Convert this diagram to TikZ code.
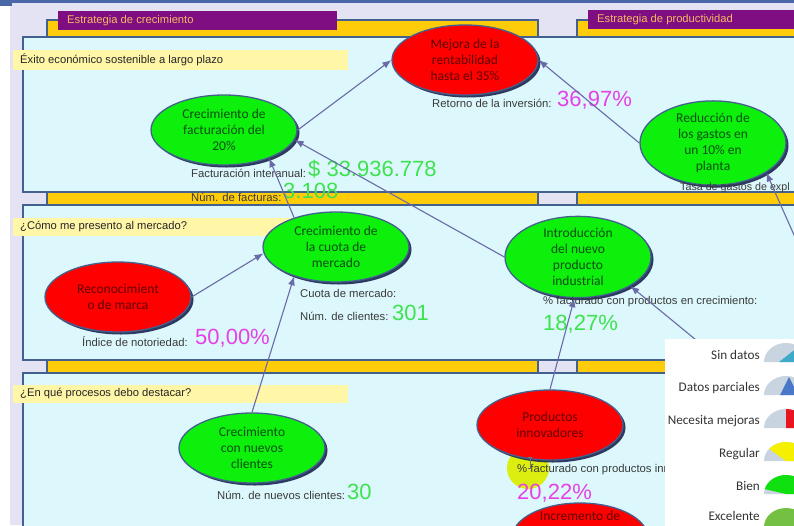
\documentclass[tikz,border=0pt]{standalone}
\usepackage{fontspec}
\setmainfont{Liberation Sans}
\newfontfamily\carl{Carlito}
\usetikzlibrary{shapes.geometric,arrows.meta,shadows}

\definecolor{lav}{HTML}{E3E3F3}
\definecolor{topblue}{HTML}{4A68A8}
\definecolor{edge}{HTML}{44608F}
\definecolor{lanecyan}{HTML}{DCF8FC}
\definecolor{gold}{HTML}{FFCC0A}
\definecolor{headp}{HTML}{7E0E82}
\definecolor{headt}{HTML}{F5B860}
\definecolor{band}{HTML}{FFF6A8}
\definecolor{redf}{HTML}{FF0000}
\definecolor{redt}{HTML}{600000}
\definecolor{greenf}{HTML}{0CF00C}
\definecolor{greent}{HTML}{0A4E10}
\definecolor{shadowc}{HTML}{1C2550}
\definecolor{kpit}{HTML}{3A3A3A}
\definecolor{magv}{HTML}{E640E6}
\definecolor{greenv}{HTML}{3EE24E}
\definecolor{arrc}{HTML}{6A6AA6}
\definecolor{hilite}{HTML}{DCEE10}
\definecolor{gaugebg}{HTML}{C8D4DF}
\definecolor{gteal}{HTML}{3FA9C9}
\definecolor{gblue}{HTML}{4A78C8}
\definecolor{gred}{HTML}{E8141E}
\definecolor{gyellow}{HTML}{F5F000}
\definecolor{ggreen}{HTML}{10E010}
\definecolor{gexc}{HTML}{74C043}
\definecolor{legt}{HTML}{333333}

\begin{document}
\begin{tikzpicture}[x=1pt,y=-1pt,
  lanebox/.style={draw=edge, line width=1.2pt},
  goal/.style={ellipse, draw=edge, line width=1.3pt, minimum width=146pt,
    minimum height=70pt, inner sep=0pt, align=center,
    font=\carl\fontsize{13.5}{16}\selectfont,
    drop shadow={shadow xshift=2.5pt, shadow yshift=-2.5pt, fill=shadowc, opacity=0.9}},
  redgoal/.style={goal, fill=redf, text=redt},
  greengoal/.style={goal, fill=greenf, text=greent},
  header/.style={anchor=west, inner sep=0pt, text=headt, font=\fontsize{11.2}{13}\selectfont},
  rowlabel/.style={anchor=west, inner sep=0pt, text=black!85, font=\fontsize{11.2}{13}\selectfont},
  kpi/.style={anchor=west, inner sep=0pt, text=kpit, font=\fontsize{11.3}{13}\selectfont},
  valm/.style={anchor=west, inner sep=0pt, text=magv, font=\fontsize{22}{24}\selectfont},
  valg/.style={anchor=west, inner sep=0pt, text=greenv, font=\fontsize{22}{24}\selectfont},
  legtext/.style={anchor=east, inner sep=0pt, text=legt, font=\carl\fontsize{13.2}{15}\selectfont},
  link/.style={draw=arrc, line width=1.1pt, -{Latex[length=9pt,width=7pt]}}]

\useasboundingbox (0,0) rectangle (794,525);
\clip (0,0) rectangle (794,525);

% page background
\fill[lav] (0,0) rectangle (794,525);
\fill[white] (0,0) rectangle (10,525);
\fill[topblue] (0,0) rectangle (794,3);
\fill[topblue] (0,0) rectangle (12,6);

% strategy columns
\draw[lanebox, fill=gold] (47,20) rectangle (538,545);
\draw[lanebox, fill=gold] (577,20) rectangle (815,545);

% perspective rows
\draw[lanebox, fill=lanecyan] (23,37) rectangle (815,192);
\draw[lanebox, fill=lanecyan] (23,205) rectangle (815,360);
\draw[lanebox, fill=lanecyan] (23,373) rectangle (815,545);

% column headers
\fill[headp] (58,11) rectangle (337,30);
\node[header] (h1) at (67,21) {Estrategia de crecimiento};
\fill[headp] (588,10) rectangle (815,29);
\node[header] (h2) at (597,20) {Estrategia de productividad};

% row questions
\fill[band] (13,50) rectangle (348,70);
\node[rowlabel] (r1) at (20,60) {Éxito económico sostenible a largo plazo};
\fill[band] (13,218) rectangle (348,236);
\node[rowlabel] (r2) at (20,227) {¿Cómo me presento al mercado?};
\fill[band] (13,385) rectangle (348,403);
\node[rowlabel] (r3) at (20,394) {¿En qué procesos debo destacar?};

% highlight spot
\fill[hilite] (528,468) circle[radius=21pt];

% objectives
\node[redgoal] (mejora) at (465,60) {Mejora de la\\rentabilidad\\hasta el 35\%};
\node[greengoal] (fact) at (224,130) {Crecimiento de\\facturación del\\20\%};
\node[greengoal] (gastos) at (713,143) {Reducción de\\los gastos en\\un 10\% en\\planta};
\node[greengoal] (cuota) at (336,247) {Crecimiento de\\la cuota de\\mercado};
\node[redgoal] (marca) at (118,297) {Reconocimient\\o de marca};
\node[greengoal] (intro) at (578,257) {Introducción\\del nuevo\\producto\\industrial};
\node[greengoal] (nuevos) at (252,448) {Crecimiento\\con nuevos\\clientes};
\node[redgoal] (innov) at (550,425) {Productos\\innovadores};
\node[redgoal, minimum width=136pt] (incr) at (580,538) {};
\node[text=redt, font=\carl\fontsize{13.5}{16}\selectfont, inner sep=0pt] (incrt) at (580,516) {Incremento de};

% indicators
\node[kpi] (k1) at (432,103) {Retorno de la inversión:};
\node[valm] (v1) at (557,100) {36,97\%};
\node[kpi] (k2) at (191,173) {Facturación interanual:};
\node[valg] (v2) at (308,169) {\$ 33.936.778};
\node[kpi] (k3) at (191,197) {Núm. de facturas:};
\node[valg] (v3) at (283,191) {3.108};
\node[kpi, font=\fontsize{10.7}{13}\selectfont] (k4) at (680,188) {Tasa de gastos de expl};
\node[kpi] (k5) at (300,293) {Cuota de mercado:};
\node[kpi] (k6) at (300,316) {Núm. de clientes:};
\node[valg] (v6) at (392,313) {301};
\node[kpi] (k7) at (82,342) {Índice de notoriedad:};
\node[valm] (v7) at (195,338) {50,00\%};
\node[kpi] (k8) at (543,302) {\% facturado con productos en crecimiento:};
\node[valg] (v8) at (543,324) {18,27\%};
\node[kpi] (k9) at (217,495) {Núm. de nuevos clientes:};
\node[valg] (v9) at (347,492) {30};
\node[kpi] (k10) at (517,470) {\% facturado con productos innovadores:};
\node[valm] (v10) at (517,493) {20,22\%};

% text cursor
\draw[black!55, line width=0.6pt] (528,457) -- (532,457) (530,457) -- (530,468) (528,468) -- (532,468);

% cause-effect links
\coordinate (from-right) at (806,262);
\coordinate (from-legend) at (735,372);
\draw[link] (fact.east) -- (mejora.west);
\draw[link] (gastos.west) -- (mejora.east);
\draw[link] (intro.west) -- (fact.-8);
\draw[link] (cuota.145) -- (fact.-32);
\draw[link] (marca.east) -- (cuota.185);
\draw[link] (nuevos.north) -- (cuota.215);
\draw[link] (innov.north) -- (intro.265);
\draw[link] (from-legend) -- (intro.-29);
\draw[link] (from-right) -- (gastos.-29);

% status legend
\fill[white] (665,339) rectangle (800,530);
\node[legtext] (l1) at (760,355) {Sin datos};
\node[legtext] (l2) at (760,388) {Datos parciales};
\node[legtext] (l3) at (760,421) {Necesita mejoras};
\node[legtext] (l4) at (760,454) {Regular};
\node[legtext] (l5) at (760,486) {Bien};
\node[legtext] (l6) at (760,516) {Excelente};

% gauges
\fill[gaugebg] (764,362) arc[start angle=180,end angle=0,x radius=22pt,y radius=19pt] -- cycle;
\fill[gteal] (779,362) -- (802,362) -- (802,344) -- cycle;
\fill[gaugebg] (764,395) arc[start angle=180,end angle=0,x radius=22pt,y radius=19pt] -- cycle;
\fill[gblue] (780,395) -- (798,395) -- (789,377) -- cycle;
\fill[gaugebg] (764,428) arc[start angle=180,end angle=0,x radius=22pt,y radius=19pt] -- cycle;
\fill[gred] (786,428) -- ++(22pt,0pt) arc[start angle=0,end angle=90,x radius=22pt,y radius=19pt] -- cycle;
\fill[gaugebg] (764,461) arc[start angle=180,end angle=0,x radius=22pt,y radius=19pt] -- cycle;
\fill[gyellow] (786,461) -- ++(22pt,0pt) arc[start angle=0,end angle=140,x radius=22pt,y radius=19pt] -- cycle;
\fill[gaugebg] (764,494) arc[start angle=180,end angle=0,x radius=22pt,y radius=19pt] -- cycle;
\fill[ggreen] (786,494) -- ++(22pt,0pt) arc[start angle=0,end angle=165,x radius=22pt,y radius=19pt] -- cycle;
\fill[gexc] (764,527) arc[start angle=180,end angle=0,x radius=22pt,y radius=19pt] -- cycle;

\end{tikzpicture}
\end{document}
